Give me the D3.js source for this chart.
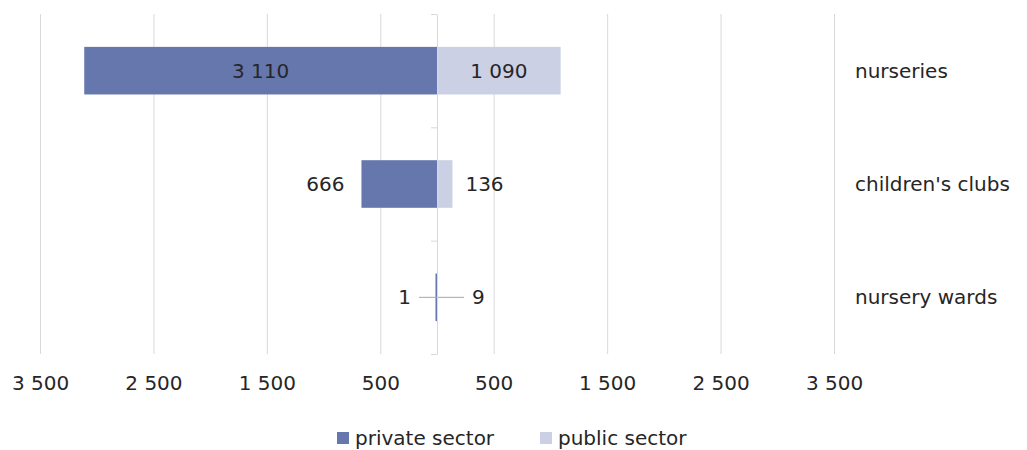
<!DOCTYPE html>
<html>
<head>
<meta charset="utf-8">
<script src="https://cdn.jsdelivr.net/npm/d3@7"></script>
<style>
  body { margin: 0; background: #fff; }
  text { font-family: "DejaVu Sans", "Noto Sans", sans-serif; fill: #262626; }
</style>
</head>
<body>
<div id="chart"></div>
<script>
var categories = ["nurseries", "children's clubs", "nursery wards"];
var privateSector = [3110, 666, 1];
var publicSector = [1090, 136, 9];
var tickValues = [-3500, -2500, -1500, -500, 500, 1500, 2500, 3500];
var seriesNames = ["private sector", "public sector"];

var width = 1027, height = 450;
var colPrivate = "#6677ad", colPublic = "#cbd0e4";
var fontSize = 20;

var svg = d3.select("#chart").append("svg")
    .attr("width", width)
    .attr("height", height);

var x = d3.scaleLinear().domain([-3500, 3500]).range([40, 834]);
var y = d3.scaleBand().domain(categories).range([14, 354]);
var barH = y.bandwidth() * 0.42;

var loc = d3.formatLocale({decimal: ".", thousands: "\u00a0", grouping: [3], currency: ["", ""]});
var fmt = loc.format(",");

// gridlines + tick labels
var xAxis = svg.append("g")
    .attr("transform", "translate(0,354)")
    .call(d3.axisBottom(x)
        .tickValues(tickValues)
        .tickSizeInner(-340)
        .tickSizeOuter(0)
        .tickPadding(22)
        .tickFormat(function (d) { return fmt(Math.abs(d)); }));
xAxis.select(".domain").remove();
xAxis.selectAll("line").attr("stroke", "#d9d9d9");
xAxis.selectAll("text").attr("font-size", fontSize).attr("fill", "#262626")
    .attr("font-family", null);

// rows
var rows = categories.map(function (c, i) {
    return {cat: c, priv: privateSector[i], pub: publicSector[i]};
});

var g = svg.append("g");

g.selectAll("rect.priv").data(rows).enter().append("rect")
    .attr("class", "priv")
    .attr("x", function (d) { return Math.min(x(-d.priv), x(0) - 1.5); })
    .attr("y", function (d) { return y(d.cat) + (y.bandwidth() - barH) / 2; })
    .attr("width", function (d) { return Math.max(x(0) - x(-d.priv), 1.5); })
    .attr("height", barH)
    .attr("fill", colPrivate);

g.selectAll("rect.pub").data(rows).enter().append("rect")
    .attr("class", "pub")
    .attr("x", x(0))
    .attr("y", function (d) { return y(d.cat) + (y.bandwidth() - barH) / 2; })
    .attr("width", function (d) { return Math.max(x(d.pub) - x(0), 1); })
    .attr("height", barH)
    .attr("fill", colPublic);

// center axis, ticks at band boundaries
var yIdx = d3.scaleLinear().domain([0, categories.length]).range([14, 354]);
var cAxis = svg.append("g")
    .attr("transform", "translate(" + x(0) + ",0)")
    .call(d3.axisLeft(yIdx).ticks(categories.length).tickFormat("").tickSizeInner(6).tickSizeOuter(0));
cAxis.selectAll("line, path").attr("stroke", "#d9d9d9");

// value labels
rows.forEach(function (d) {
    var cy = y(d.cat) + y.bandwidth() / 2;
    var wPriv = x(0) - x(-d.priv), wPub = x(d.pub) - x(0);
    var lx, anchor;
    if (wPriv > 100) {
        lx = x(0) - wPriv / 2; anchor = "middle";
    } else if (wPriv > 5) {
        lx = x(-d.priv) - 17; anchor = "end";
    } else {
        lx = x(0) - 26; anchor = "end";
        g.append("line").attr("x1", lx + 8).attr("x2", x(0))
            .attr("y1", cy).attr("y2", cy).attr("stroke", "#a6a6a6");
    }
    g.append("text").attr("x", lx).attr("y", cy).attr("dy", "0.35em")
        .attr("text-anchor", anchor).attr("font-size", fontSize).text(fmt(d.priv));

    if (wPub > 100) {
        lx = x(0) + wPub / 2; anchor = "middle";
    } else if (wPub > 5) {
        lx = x(d.pub) + 13; anchor = "start";
    } else {
        lx = x(0) + 35; anchor = "start";
        g.append("line").attr("x1", x(0)).attr("x2", lx - 8)
            .attr("y1", cy).attr("y2", cy).attr("stroke", "#a6a6a6");
    }
    g.append("text").attr("x", lx).attr("y", cy).attr("dy", "0.35em")
        .attr("text-anchor", anchor).attr("font-size", fontSize).text(fmt(d.pub));
});

// category labels on the right
svg.append("g").selectAll("text").data(categories).enter().append("text")
    .attr("x", 855)
    .attr("y", function (d) { return y(d) + y.bandwidth() / 2; })
    .attr("dy", "0.35em")
    .attr("font-size", fontSize)
    .text(function (d) { return d; });

// legend
var legend = svg.append("g").attr("transform", "translate(0,438)");
var legX = [337, 540];
seriesNames.forEach(function (s, i) {
    legend.append("rect").attr("x", legX[i]).attr("y", -6).attr("width", 12).attr("height", 12)
        .attr("fill", i === 0 ? colPrivate : colPublic);
    legend.append("text").attr("x", legX[i] + 18).attr("y", 0).attr("dy", "0.35em")
        .attr("font-size", fontSize).text(s);
});
</script>
</body>
</html>
